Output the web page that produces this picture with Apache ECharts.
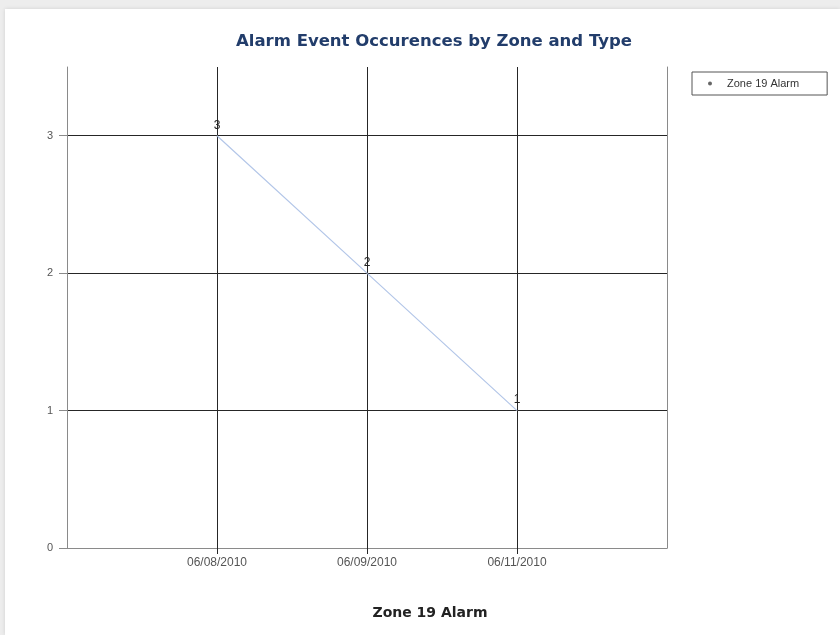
<!DOCTYPE html>
<html>
<head>
<meta charset="utf-8">
<script src="https://cdn.jsdelivr.net/npm/echarts@6/dist/echarts.min.js"></script>
<style>
  html, body { margin: 0; padding: 0; background: #ededed; }
  .panel {
    position: absolute; left: 5px; top: 9px; width: 835px; height: 626px;
    background: #fff; box-shadow: 0 0 4px rgba(0,0,0,0.12);
  }
  #chart { position: absolute; left: 0; top: 0; width: 840px; height: 635px; }
</style>
</head>
<body>
<div class="panel"></div>
<div id="chart"></div>
<script>
// dates in order, values per date
const dates = ["06/08/2010", "06/09/2010", "06/11/2010"];
const zone19Alarm = [3, 2, 1];
const yTicks = [0, 1, 2, 3];

const slots = dates.map((d, i) => i + 1);
const points = slots.map((x, i) => [x, zone19Alarm[i]]);

const chart = echarts.init(document.getElementById("chart"));
const gridColor = "#262626";
const axisGrey = "#8a8a8a";

chart.setOption({
  backgroundColor: "transparent",
  animation: false,
  title: {
    text: "Alarm Event Occurences by Zone and Type",
    left: 429,
    top: 28,
    textAlign: "center",
    textStyle: { color: "#223d6b", fontSize: 16.5, fontWeight: "bold", fontFamily: "DejaVu Sans" },
  },
  legend: {
    left: 692,
    top: 72,
    orient: "vertical",
    data: [{ name: "Zone 19 Alarm", icon: "circle" }],
    itemWidth: 4,
    itemHeight: 4,
    itemGap: 4,
    padding: [6, 28, 6, 16],
    borderColor: "#555",
    borderWidth: 1,
    borderRadius: 0,
    textStyle: { color: "#333", fontSize: 11, fontFamily: "Liberation Sans", padding: [0, 0, 0, 10] },
  },
  grid: { left: 67, right: 173, top: 67, bottom: 87, containLabel: false },
  xAxis: {
    type: "value",
    min: 0,
    max: dates.length + 1,
    interval: 1,
    name: "Zone 19 Alarm",
    nameLocation: "middle",
    nameGap: 58,
    nameTextStyle: {
      color: "#222", fontSize: 14, fontWeight: "bold", fontFamily: "DejaVu Sans",
      padding: [0, 0, 0, 126],
    },
    axisLine: { show: true, lineStyle: { color: axisGrey, width: 1 } },
    axisTick: { show: true, length: 6, lineStyle: { color: gridColor }, customValues: slots },
    axisLabel: {
      color: "#555",
      fontSize: 12,
      fontFamily: "Liberation Sans Narrow, Liberation Sans",
      margin: 9,
      customValues: slots,
      formatter: (v) => dates[v - 1] || "",
    },
    splitLine: { show: true, lineStyle: { color: gridColor, width: 1 } },
  },
  yAxis: [
    {
      type: "value",
      min: 0,
      max: 3.5,
      interval: 1,
      axisLine: { show: true, lineStyle: { color: axisGrey, width: 1 } },
      axisTick: { show: true, length: 8, lineStyle: { color: axisGrey }, customValues: yTicks },
      axisLabel: { color: "#555", fontSize: 11, fontFamily: "Liberation Sans", margin: 14, customValues: yTicks },
      splitLine: { show: true, lineStyle: { color: gridColor, width: 1 } },
    },
    {
      type: "value",
      min: 0,
      max: 3.5,
      position: "right",
      axisLine: { show: true, lineStyle: { color: axisGrey, width: 1 } },
      axisTick: { show: false },
      axisLabel: { show: false },
      splitLine: { show: false },
    },
  ],
  series: [
    {
      name: "Zone 19 Alarm",
      type: "line",
      data: points,
      showSymbol: true,
      symbol: "circle",
      symbolSize: 1,
      itemStyle: { color: "#666" },
      lineStyle: { color: "#b3c6e8", width: 1.2 },
      label: {
        show: true,
        position: "top",
        distance: 4,
        color: "#222",
        fontSize: 12,
        fontFamily: "Liberation Sans",
        formatter: (p) => p.value[1],
      },
    },
  ],
});
</script>
</body>
</html>
